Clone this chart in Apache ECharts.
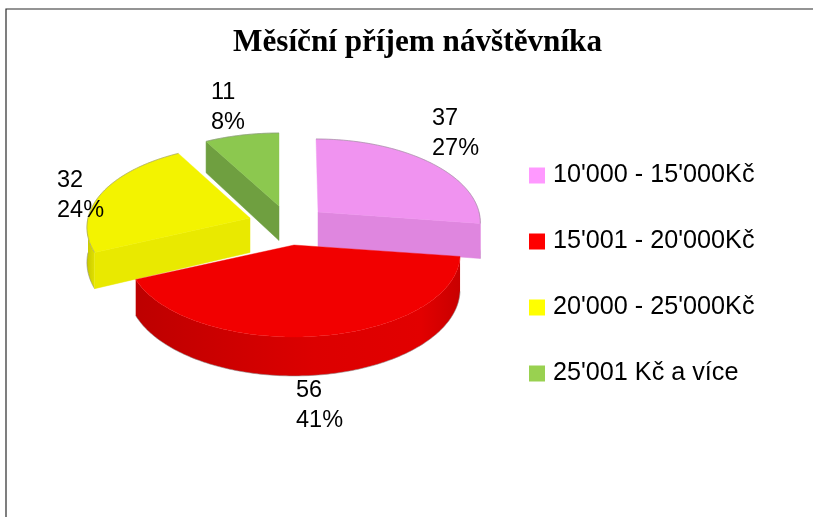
<!DOCTYPE html>
<html><head><meta charset="utf-8">
<style>html,body{margin:0;padding:0;background:#fff}#c{width:813px;height:517px}</style>
<script src="https://cdn.jsdelivr.net/npm/echarts@6/dist/echarts.min.js"></script>
</head><body><div id="c"></div>
<script>
const titleText = 'Měsíční příjem návštěvníka';
const categories = ["10'000 - 15'000Kč", "15'001 - 20'000Kč", "20'000 - 25'000Kč", "25'001 Kč a více"];
const values = [37, 56, 32, 11];

const legendColors = ['#ff99ff', '#ff0000', '#ffff00', '#99d150'];
const topColors = ['#f093f0', '#f20000', '#f3f300', '#8cc84f'];
const cutColors = ['#df86df', '#e00000', '#e9e900', '#6f9f40'];
const wallStops = [
  [[0, '#df86df'], [1, '#df86df']],
  [[0, '#bd0000'], [0.55, '#dc0000'], [0.88, '#e20000'], [1, '#c80000']],
  [[0, '#c8c800'], [1, '#e0e000']],
  [[0, '#6f9f40'], [1, '#6f9f40']]
];
const sliceLayout = [
  { cx: 318, cy: 212, rx: 161, skew: -2, lx: 432, ly: 134 },
  { cx: 294, cy: 245, rx: 165, skew: 0, lx: 296, ly: 406 },
  { cx: 250, cy: 218, rx: 162, skew: 0, lx: 57, ly: 196 },
  { cx: 279, cy: 206, rx: 165, skew: 0, lx: 211, ly: 108 }
];
const drawOrder = [3, 2, 0, 1];
const RY = 81.4, PERSP = 0.115, DEPTH = 34.5, LABEL_FONT = '23.5px "Liberation Sans"';
const EDGE = 'rgba(140,140,140,0.8)';

const total = values.reduce((a, b) => a + b, 0);
const startAngles = [];
values.reduce((acc, v, i) => { startAngles[i] = acc; return acc + v / total * 360; }, 0);

function project(i, deg, r, h) {
  const L = sliceLayout[i], t = deg * Math.PI / 180;
  const u = r * Math.sin(t), v = r * Math.cos(t), s = 1 / (1 + PERSP * v);
  return [L.cx + L.rx * u * s + L.skew * v, L.cy - RY * v * s + DEPTH * h * s];
}
function arc(i, a0, a1, h) {
  const pts = [], n = Math.max(2, Math.ceil(Math.abs(a1 - a0)));
  for (let k = 0; k <= n; k++) pts.push(project(i, a0 + (a1 - a0) * k / n, 1, h));
  return pts;
}
function cutFace(i, deg, fill) {
  return { type: 'polygon', shape: { points: [project(i, 0, 0, 0), project(i, deg, 1, 0), project(i, deg, 1, 1), project(i, 0, 0, 1)] },
    style: { fill: fill, stroke: fill, lineWidth: 0.5 } };
}
function edge(points) {
  return { type: 'polyline', shape: { points: points }, style: { fill: 'none', stroke: EDGE, lineWidth: 0.7 } };
}
function renderSlice(i, value) {
  const a0 = startAngles[i], a1 = a0 + value / total * 360;
  const kids = [];
  const w0 = Math.max(a0, 90), w1 = Math.min(a1, 270);
  if (w1 > w0) {
    const top = arc(i, w0, w1, 0), bot = arc(i, w0, w1, 1);
    kids.push({ type: 'polygon', shape: { points: top.concat(bot.slice().reverse()) }, style: {
      fill: new echarts.graphic.LinearGradient(0, 0, 1, 0, wallStops[i].map(s => ({ offset: s[0], color: s[1] }))) } });
    kids.push(edge(bot));
  }
  if (i === 0) kids.push(cutFace(i, a1, cutColors[i]));
  if (i === 2 || i === 3) kids.push(cutFace(i, a0, cutColors[i]));
  const arcTop = arc(i, a0, a1, 0);
  kids.push({ type: 'polygon', shape: { points: [project(i, 0, 0, 0)].concat(arcTop) },
    style: { fill: topColors[i], stroke: topColors[i], lineWidth: 0.4 } });
  if (i !== 1) kids.push(edge(arcTop));
  const L = sliceLayout[i];
  kids.push({ type: 'text', style: { text: value + '\n' + Math.round(value / total * 100) + '%', x: L.lx, y: L.ly,
    font: LABEL_FONT, lineHeight: 30, fill: '#000', align: 'left', verticalAlign: 'middle' } });
  return { type: 'group', children: kids };
}

const chart = echarts.init(document.getElementById('c'), null, { renderer: 'canvas' });
chart.setOption({
  animation: false,
  backgroundColor: '#fff',
  title: { text: titleText, left: 412.5, top: 22, textAlign: 'center',
    textStyle: { fontFamily: '"Liberation Serif"', fontWeight: 'bold', fontSize: 31.2, color: '#000' } },
  legend: { orient: 'vertical', left: 529, top: 163, padding: 0, icon: 'rect', itemWidth: 16, itemHeight: 16, itemGap: 41,
    data: categories, selectedMode: false,
    textStyle: { fontFamily: '"Liberation Sans"', fontSize: 25.2, color: '#000', padding: [0, 0, 0, 3], lineHeight: 25 } },
  graphic: [{ type: 'rect', silent: true, z: -1, shape: { x: 6, y: 9, width: 900, height: 700 },
    style: { fill: '#fff', stroke: '#2a2a2a', lineWidth: 1.2 } }],
  series: drawOrder.map((i, pos) => ({
    type: 'custom', name: categories[i], coordinateSystem: 'none', z: 2 + pos, silent: true,
    itemStyle: { color: legendColors[i] },
    data: [values[i]],
    renderItem: (params, api) => renderSlice(i, api.value(0))
  }))
});
</script></body></html>
